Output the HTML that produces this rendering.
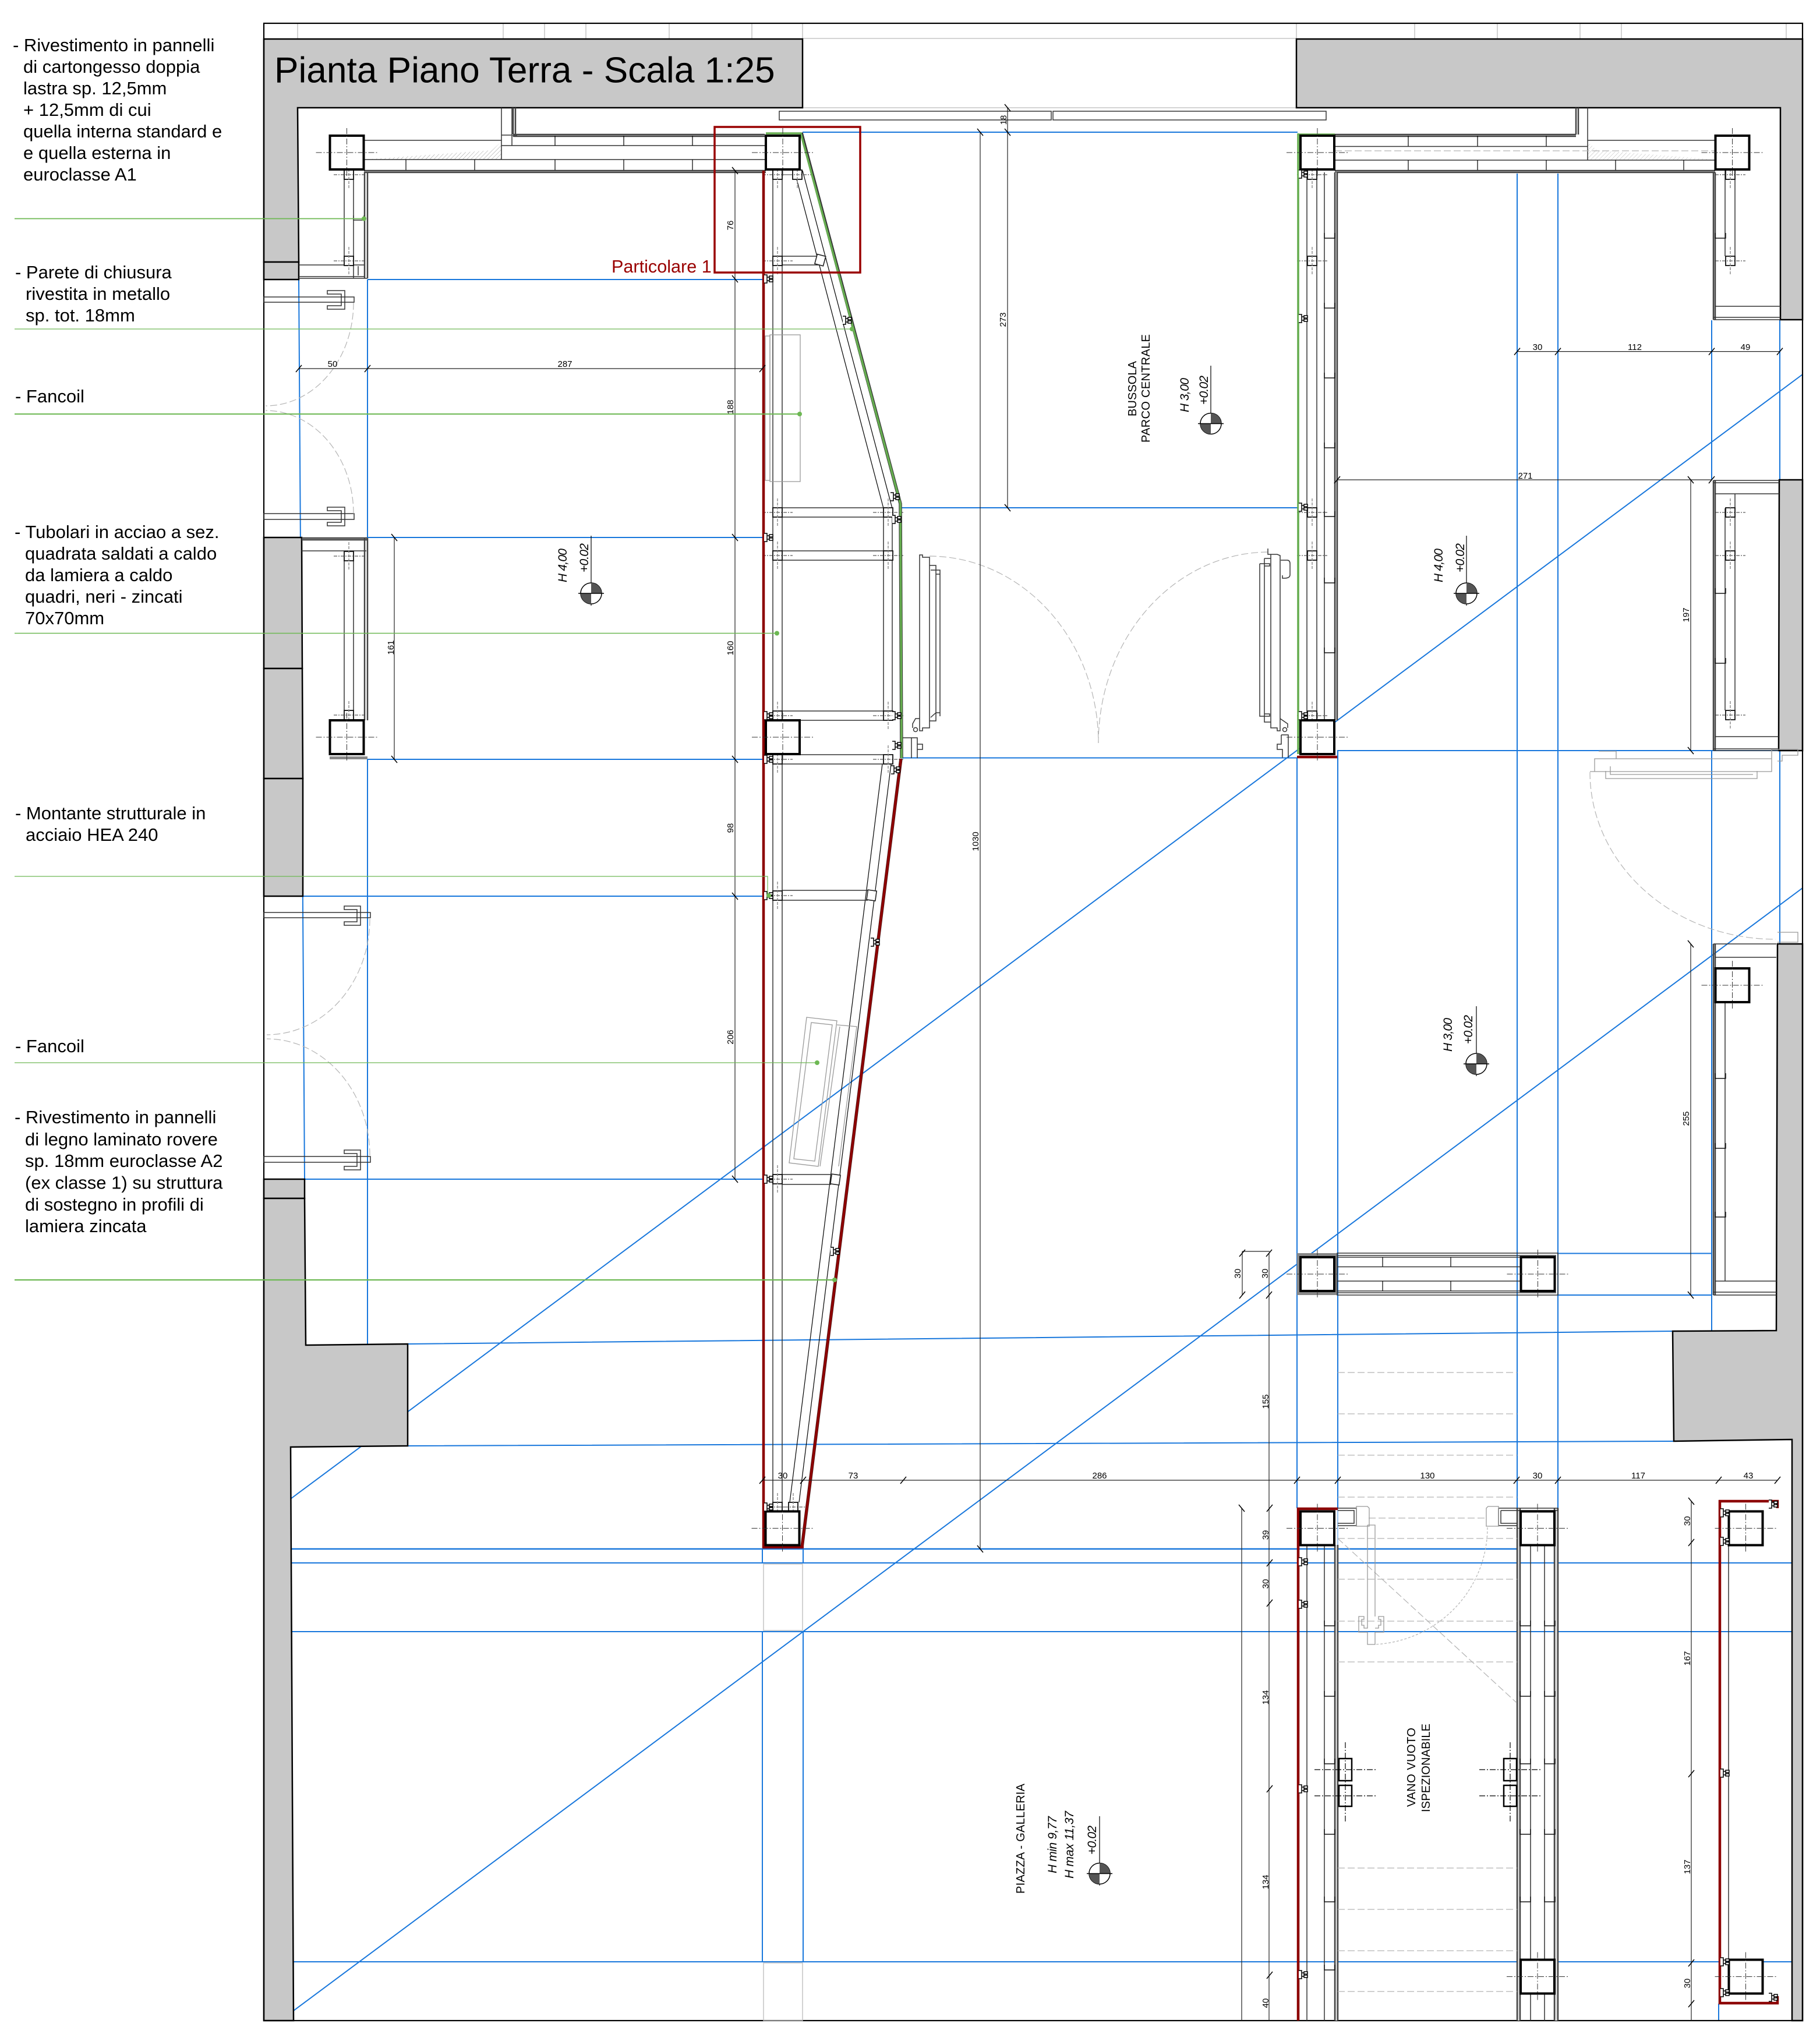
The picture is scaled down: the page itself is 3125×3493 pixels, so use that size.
<!DOCTYPE html>
<html><head><meta charset="utf-8"><title>Pianta Piano Terra</title>
<style>
html,body{margin:0;padding:0;background:#fff}
svg{display:block}
text{font-family:"Liberation Sans",sans-serif;fill:#000}
.l{font-size:31px}
.d{font-size:15px;text-anchor:middle}
.i{font-size:21px;font-style:italic}
.r{font-size:20px}
.b{stroke:#1877dc;stroke-width:2;fill:none}
.g{stroke:#6db853;fill:none}
.w{fill:#c8c8c8;stroke:#000;stroke-width:2.5}
.s{stroke:#333;stroke-width:1.5;fill:none}
.t{stroke:#444;stroke-width:2.5;fill:none}
.h{stroke:#999;stroke-width:1.3;fill:none}
.k{stroke:#000;stroke-width:1.2;fill:none}
.a{stroke:#b4b4b4;stroke-width:1.2;fill:none;stroke-dasharray:12 5}
.dm{stroke:#222;stroke-width:1.2;fill:none}
.red{stroke:#8c0000;stroke-width:4.5;fill:none}
.grn{stroke:#66ad50;stroke-width:3.6;fill:none}
.und{stroke:#333;stroke-width:5.5;fill:none}
</style></head><body>
<svg xmlns="http://www.w3.org/2000/svg" width="3125" height="3493" viewBox="0 0 3125 3493">
<defs>
<g id="col"><rect x="-29" y="-29" width="58" height="58" fill="#fff" stroke="#000" stroke-width="4"/><path d="M-53 0H53M0-42V42" stroke="#333" stroke-width="1" stroke-dasharray="10 3 2 3" fill="none"/></g>
<g id="sq"><rect x="-8" y="-8" width="16" height="16" fill="#fff" stroke="#111" stroke-width="1.8"/><path d="M-26 0H26" stroke="#333" stroke-width="1" stroke-dasharray="6 2 2 2" fill="none"/><path d="M0-24V24" stroke="#888" stroke-width="1.4" stroke-dasharray="5 2" fill="none"/></g>
<path id="fx" d="M-8-7h5v14h-5M-3-3h4v6h-4zM1-5h6v4h-6zM1 1h6v4h-6z" stroke="#000" stroke-width="1.5" fill="#fff"/>
<path id="tv" d="M-5-6L5 6" stroke="#000" stroke-width="1.5"/>
<path id="th" d="M-5 6L5-6" stroke="#000" stroke-width="1.5"/>
<path id="u" d="M0 0V9H18V0" stroke="#111" stroke-width="1.4" fill="none"/>
<circle id="dot" r="4" fill="#6db853"/>
<g id="lv"><circle r="18" fill="#fff" stroke="#000" stroke-width="1.5"/><path d="M0-18A18 18 0 0 1 18 0H0ZM0 18A18 18 0 0 1-18 0H0Z" fill="#555"/><path d="M-22 0H22" stroke="#000" stroke-width="1.5"/></g>
<pattern id="ht" width="5" height="5" patternUnits="userSpaceOnUse" patternTransform="rotate(45)"><path d="M0 0V5" stroke="#999" stroke-width="1"/></pattern>
</defs>
<rect width="3125" height="3493" fill="#fff"/>

<!-- top band -->
<path d="M1378 66H2226M1378 185H2226M511 40V67M864 40V67M935 40V67M1006 40V67M1149 40V67M1291 40V67M1378 40V67M2226 40V67M2429 40V67M2571 40V67M2713 40V67M2784 40V67M3067 40V67" stroke="#bbb" stroke-width="1.3" fill="none"/>

<!-- blue guide lines -->
<g class="b">
<path d="M513 480L523 2025M631 480V923M631 1304V2310"/>
<path d="M631 480H1309M631 923H1309M631 1304H1309M520 1539H1309M523 2025H1309"/>
<path d="M1378 227H2228M1547 872H2228M1547 1301.5H2228M2296 1289H3054"/>
<path d="M2675 2152.5H2939M2675 2224H2939"/>
<path d="M700 2308L2872 2286M700 2483L2874 2475"/>
<path d="M499 2660H2605" stroke-width="2.6"/>
<path d="M499 2684H3077M501 2802H3077M504 3369H3077"/>
<path d="M1309 2660V2684M1379 2660V2684M1309 2802V3369M1379 2802V3369"/>
<path d="M2227 1301V2590M2297 1289V2590M2605 298V2590M2675 298V2590"/>
<path d="M2297 2590V3369" stroke="#9cc4f0"/>
<path d="M2939 550V824M2939 1289V2286M3056 549V824M3056 1289V1621M2951 3441V3470"/>
<path d="M499 2574L3095 643"/>
<path d="M504 3453L3095 1525"/>
</g>

<!-- walls -->
<polygon class="w" points="453,67 1378,67 1378,185 511,185 513,450 453,450"/>
<polygon class="w" points="453,450 513,450 513,480 453,480"/>
<polygon class="w" points="453,923 518,923 519,1148 453,1148"/>
<polygon class="w" points="453,1148 519,1148 520,1337 453,1337"/>
<polygon class="w" points="453,1337 520,1337 520,1539 453,1539"/>
<polygon class="w" points="453,2025 523,2025 523,2058 453,2058"/>
<polygon class="w" points="453,2058 523,2058 525,2310 700,2308 700,2483 499,2485 504,3470 453,3470"/>
<polygon class="w" points="2226,67 3095,67 3095,549 3057,549 3057,185 2226,185"/>
<polygon class="w" points="3055,824 3095,824 3095,1289 3054,1289"/>
<polygon class="w" points="3052,1621 3095,1621 3095,3470 3077,3470 3077,2472 2874,2475 2872,2286 3050,2285"/>
<rect x="453" y="40" width="2642" height="3430" fill="none" stroke="#000" stroke-width="2.2"/>

<!-- sliding door on top -->
<rect x="1338" y="191" width="467" height="15" fill="#fff" class="s"/>
<rect x="1808" y="191" width="469" height="15" fill="#fff" class="s"/>

<!-- top left bay -->
<polygon points="625,274 845,258 861,243 861,274" fill="url(#ht)"/>
<path class="t" d="M881 231H1313M881 234H1313M625 293H1315M625 296H1315" stroke-width="2"/>
<path class="t" d="M881 185V231M885 185V231" stroke-width="1.8"/>
<path class="s" d="M625 241H861M861 250H1315M625 274H1315M861 185V274M879 185V232M861 232H879M879 233V250M879 233H888"/>
<path class="k" stroke-width="1.5" d="M953 233V250M1071 233V250M1189 233V250M697 274V292M815 274V292M953 274V292M1071 274V292M1189 274V292"/>
<path class="s" d="M591 293V440M607 293V478M513 455H625M513 475H625M513 478H631M615 457V473"/>
<path class="t" d="M626 296V478M631 296V478" stroke-width="1.8"/>
<path class="s" d="M607 370V378H625V370"/>
<use href="#sq" x="599" y="300"/><use href="#sq" x="599" y="448"/>

<!-- door jambs left -->
<g class="s" stroke-width="1.6">
<rect x="453" y="510" width="155" height="9"/><path d="M562 499H592V531H562V525H586V505H562Z"/>
<rect x="453" y="882" width="155" height="10"/><path d="M562 871H592V903H562V897H586V877H562Z"/>
<rect x="453" y="1567" width="183" height="9"/><path d="M591 1556H619V1589H591V1583H613V1562H591Z"/>
<rect x="453" y="1986" width="183" height="10"/><path d="M591 1975H619V2009H591V2003H613V1981H591Z"/>
</g>
<g class="a">
<path d="M607 520A151 177 0 0 1 456 697"/><path d="M607 882A151 177 0 0 0 456 705"/>
<path d="M635 1578A177 199 0 0 1 458 1777"/><path d="M635 1984A177 200 0 0 0 458 1784"/>
<path d="M1596 955A291 321 0 0 1 1886 1276"/><path d="M2177 948A293 328 0 0 0 1886 1276"/>
<path d="M2730 1326A319 287 0 0 0 3049 1613"/>
<path d="M2554 2623A204 201 0 0 1 2361 2824" stroke-dasharray="4 3"/>
</g>

<!-- lower left bay -->
<path class="t" d="M518 924H631M518 927H631" stroke-width="1.8"/>
<path class="s" d="M518 946H629M591 962V1220M607 962V1220"/>
<path class="t" d="M626 924V1237M631 924V1237" stroke-width="1.8"/>
<use href="#sq" x="599" y="955"/><use href="#sq" x="599" y="1228"/>
<rect x="566" y="1299" width="65" height="5" fill="#888"/>

<!-- central left curtain -->
<path class="s" d="M1327 293V2580M1343 293V2580"/>
<path class="k" d="M1368 308L1517 873M1378 293L1532 873M1517 889V1221M1532 889V1221"/>
<path class="k" d="M1515 1312L1356 2580M1530 1312L1372 2580"/>
<path class="s" d="M1343 440H1413M1343 455H1413M1343 872H1517M1343 888H1517M1343 946H1517M1343 962H1517M1343 1221H1517M1343 1237H1517M1343 1296H1517M1343 1312H1517M1343 1529H1490M1343 1546H1490M1343 2017H1427M1343 2034H1427"/>
<rect x="1322" y="575" width="52" height="252" fill="none" class="h"/>
<path class="h" d="M1314 577H1322V825H1314Z"/>
<polygon class="h" points="1385,1747 1437,1753 1405,2003 1355,1997"/>
<polygon class="h" points="1393,1756 1429,1760 1399,1994 1363,1990"/>
<path class="h" d="M1437 1760L1471 1763L1440 2003M1442 1763L1408 2003"/>
<use href="#sq" x="1335" y="300"/><use href="#sq" x="1369" y="300"/><use href="#sq" x="1335" y="448"/>
<rect x="1401" y="438" width="15" height="17" fill="#fff" stroke="#222" stroke-width="1.6" transform="rotate(15 1408 446)"/>
<use href="#sq" x="1335" y="880"/><use href="#sq" x="1335" y="954"/><use href="#sq" x="1335" y="1229"/><use href="#sq" x="1335" y="1304"/>
<use href="#sq" x="1525" y="880"/><use href="#sq" x="1525" y="954"/><use href="#sq" x="1525" y="1229"/><use href="#sq" x="1525" y="1304"/>
<use href="#sq" x="1335" y="1538"/><use href="#sq" x="1335" y="2025"/>
<rect x="1489" y="1529" width="15" height="17" fill="#fff" stroke="#222" stroke-width="1.6" transform="rotate(8 1496 1538)"/>
<rect x="1427" y="2017" width="15" height="17" fill="#fff" stroke="#222" stroke-width="1.6" transform="rotate(8 1434 2025)"/>
<use href="#sq" x="1335" y="2588"/><use href="#sq" x="1362" y="2588"/>
<rect x="1311" y="2686" width="67" height="114" fill="none" stroke="#bbb" stroke-width="1.3"/>
<rect x="1311" y="3371" width="67" height="99" fill="none" stroke="#bbb" stroke-width="1.3"/>

<!-- right top bay -->
<polygon points="2726,243 2742,258 2945,274 2726,274" fill="url(#ht)" opacity=".7"/>
<path class="t" d="M2292 231H2706M2292 234H2706M2292 293H2945M2292 296H2945" stroke-width="2"/>
<path class="t" d="M2706 185V231M2710 185V231" stroke-width="1.8"/>
<path class="s" d="M2726 241H2945M2292 251.5H2726M2292 275H2945M2726 185V275"/>
<path class="a" d="M2292 259H2945"/>
<path class="k" stroke-width="1.5" d="M2418 233V251M2537 233V251M2655 233V251M2418 275V292M2537 275V292M2655 275V292M2774 275V292M2891 275V292"/>
<!-- right column 2232-2296 -->
<path class="s" d="M2244 293V1237M2261 293V1237M2274 296V1237"/>
<rect x="2292" y="296" width="5" height="941" fill="#ddd"/>
<path class="t" d="M2292 296V1237M2296 296V1237" stroke-width="1.7"/>
<use href="#u" x="2274" y="400"/><use href="#u" x="2274" y="520"/><use href="#u" x="2274" y="640"/><use href="#u" x="2274" y="760"/><use href="#u" x="2274" y="878"/><use href="#u" x="2274" y="992"/><use href="#u" x="2274" y="1112"/>
<use href="#sq" x="2253" y="300"/><use href="#sq" x="2253" y="448"/><use href="#sq" x="2253" y="880"/><use href="#sq" x="2253" y="954"/><use href="#sq" x="2253" y="1229"/>
<!-- far right posts -->
<path class="t" d="M2942 296V549M2945 296V549M2942 825V1289M2945 825V1289M2942 1621V2224M2945 1621V2224" stroke-width="1.8"/>
<path class="s" d="M2962 293V440M2979 293V440M2945 526H3057M2942 545H3057M2942 549H3057"/>
<path class="s" d="M2942 825H3055M2942 829H3055M2945 848H3055M2962 873V1220M2979 848V1220M2945 1265H3054M2942 1286H3054M2942 1289H3054"/>
<path class="s" d="M2942 1621H3050M2945 1644H3050M2962 1721V2200M2945 2200H3050M2942 2219H3050M2942 2224H3050"/>
<use href="#u" x="2945" y="400"/><use href="#u" x="2945" y="1010"/><use href="#u" x="2945" y="1130"/><use href="#u" x="2945" y="1843"/><use href="#u" x="2945" y="1963"/><use href="#u" x="2945" y="2081"/>
<use href="#sq" x="2971" y="300"/><use href="#sq" x="2971" y="448"/><use href="#sq" x="2971" y="880"/><use href="#sq" x="2971" y="954"/><use href="#sq" x="2971" y="1228"/>
<!-- right door -->
<path class="h" stroke="#888" d="M2730 1325H2738V1303H3042V1287H3052M2757 1324V1337H3017V1324M2738 1303V1325H3042V1303M2765 1316V1330H3010M2745 1290H2775V1303M3052 1287H3087V1297H3060V1307H3052M3052 1601H3087V1618H3052"/>

<!-- centre pier -->
<rect x="2227" y="2152" width="69" height="72" fill="#888"/>
<rect x="2296" y="2152" width="379" height="72" fill="#fff" class="s"/>
<path class="s" d="M2296 2156H2672M2296 2220H2672M2296 2159H2611M2296 2175.5H2611M2296 2200H2611M2296 2217H2611"/>
<path class="k" d="M2374 2159V2175M2491 2159V2175M2374 2200V2217M2491 2200V2217"/>

<!-- centre door frames -->
<g class="s" stroke-width="1.4">
<path d="M1579 953H1584V957H1596V1250H1584V1255H1579Z" fill="#fff"/>
<path d="M1596 971H1607V1238H1596M1598 979H1614V986H1607M1607 986H1614V1224H1607M1598 1232L1607 1224H1614V1230"/>
<path d="M1579 1234H1572L1567 1243V1250M1550 1267H1575V1302M1565 1267V1302M1575 1267V1278H1584V1287H1575"/>
<circle cx="1572" cy="1253" r="3.5"/>
<path d="M2177 942V952H2193L2198 954V1255H2193V1250H2182V952" fill="#fff"/>
<path d="M2171 959H2182M2171 959V1240H2182M2163 968H2180V972H2171M2163 968V1230H2180V1226H2171"/>
<path d="M2199 962H2210Q2215 962 2215 968V987Q2215 993 2205 993H2202V988"/>
<path d="M2198 1234L2211 1243V1250M2200 1262H2212V1301M2200 1262V1278H2193V1287H2202V1301"/>
<circle cx="2206" cy="1253" r="3.5"/>
</g>

<!-- vano -->
<rect x="2292" y="2653" width="5" height="817" fill="#ddd"/>
<rect x="2605" y="2590" width="5" height="880" fill="#ddd"/>
<rect x="2669" y="2590" width="6" height="880" fill="#ddd"/>
<path class="s" d="M2244 2653V3470" stroke="#000"/>
<path class="s" stroke="#777" stroke-width="1.8" d="M2274 2653V3470M2652 2653V3470"/>
<path class="s" d="M2628 2653V3470M2669 2653V3470"/>
<path class="t" d="M2292 2653V3470M2297 2653V3470M2605 2590V3470M2610 2590V3470M2669 2590V3470M2675 2590V3470" stroke-width="1.6"/>
<path class="s" d="M2605 2590H2675V2594H2605"/>
<use href="#u" x="2274" y="2783"/><use href="#u" x="2274" y="2904"/><use href="#u" x="2274" y="3020"/><use href="#u" x="2274" y="3141"/><use href="#u" x="2274" y="3257"/><use href="#u" x="2274" y="3374"/>
<use href="#u" x="2610" y="2783"/><use href="#u" x="2610" y="2904"/><use href="#u" x="2610" y="3020"/><use href="#u" x="2610" y="3141"/><use href="#u" x="2610" y="3257"/>
<use href="#u" x="2652" y="2783"/><use href="#u" x="2652" y="2904"/><use href="#u" x="2652" y="3020"/><use href="#u" x="2652" y="3141"/><use href="#u" x="2652" y="3257"/><use href="#u" x="2652" y="3374"/>
<path class="s" d="M2297 2590H2329V2620H2297M2297 2594H2325V2616H2297M2573 2590H2605M2573 2590V2620H2605M2577 2594H2605M2577 2594V2616H2605"/>
<path class="a" d="M2297 2357H2605M2297 2428H2605M2297 2499H2605M2297 2571H2605M2297 2642H2605M2297 2712H2605M2297 2784H2605M2297 2854H2605M2297 3208H2605M2297 3279H2605M2297 3350H2605M2297 3420H2605M2297 2642L2604 2924"/>
<path class="a" stroke-dasharray="6 3" d="M2350 2607H2554"/>
<path class="h" d="M2329 2587H2348L2351 2590V2621H2329ZM2552 2607V2590L2555 2587H2573V2621H2552ZM2348 2619H2361V2776M2348 2619V2776M2348 2776V2796H2342V2791H2338V2781H2342V2776H2333V2803H2348V2824H2361V2803H2376V2776H2367V2781H2371V2791H2367V2796H2361"/>
<g fill="#fff" stroke="#000" stroke-width="2.5">
<rect x="2299" y="3020" width="22" height="38"/><rect x="2299" y="3066" width="22" height="36"/>
<rect x="2582" y="3020" width="22" height="38"/><rect x="2582" y="3066" width="22" height="36"/>
</g>
<path class="k" stroke-dasharray="10 3 2 3" d="M2257 3039H2364M2257 3084H2364M2540 3039H2647M2540 3084H2647M2310 2992V3130M2593 2992V3130"/>
<path class="s" d="M2968 2653V3365"/>

<!-- colour lines -->
<path class="und" stroke-width="5" d="M1547 1303L1377 2657M1376 228L1546 865L1548 1302"/>
<path class="red" d="M1311 293V2659M1309 2657H1380"/>
<path class="red" d="M1547 1303L1377 2657"/>
<path class="grn" d="M1315 229H1375L1546 865L1548 1302"/>
<path class="grn" stroke-width="4.5" d="M2229 229V1295M2228 231H2292"/>
<path class="red" d="M2227 1300H2296"/>
<path class="red" d="M2229 2589V3470M2227 2591H2297"/>
<path class="red" d="M2953 2576V3442M2951 2578H3052V2590M2951 3440H3052V3428"/>

<!-- columns -->
<use href="#col" x="595.5" y="262"/><use href="#col" x="1344" y="262"/><use href="#col" x="2262" y="262"/><use href="#col" x="2974.5" y="262"/>
<use href="#col" x="595.5" y="1266"/><use href="#col" x="1344" y="1266"/><use href="#col" x="2262" y="1266"/><use href="#col" x="2974.5" y="1692"/>
<use href="#col" x="2262" y="2188"/><use href="#col" x="2640.5" y="2188"/>
<use href="#col" x="1343.5" y="2624.5"/><use href="#col" x="2262" y="2624.5"/><use href="#col" x="2640" y="2624.5"/><use href="#col" x="2997.5" y="2624.5"/>
<use href="#col" x="2640" y="3394.5"/><use href="#col" x="2997.5" y="3394.5"/>

<!-- fixings -->
<use href="#fx" x="1320" y="479"/><use href="#fx" x="1455" y="550"/><use href="#fx" x="1320" y="923"/><use href="#fx" x="1537" y="853"/><use href="#fx" x="1540" y="892"/>
<use href="#fx" x="1320" y="1229"/><use href="#fx" x="1540" y="1229"/><use href="#fx" x="1540" y="1280"/><use href="#fx" x="1320" y="1304"/><use href="#fx" x="1538" y="1322"/>
<use href="#fx" x="1320" y="1538"/><use href="#fx" x="1503" y="1618"/><use href="#fx" x="1320" y="2025"/><use href="#fx" x="1434" y="2149"/><use href="#fx" x="1320" y="2588"/>
<use href="#fx" x="2238" y="299"/><use href="#fx" x="2238" y="547"/><use href="#fx" x="2238" y="871"/><use href="#fx" x="2238" y="1229"/>
<use href="#fx" x="2238" y="2682"/><use href="#fx" x="2238" y="2755"/><use href="#fx" x="2238" y="3072"/><use href="#fx" x="2238" y="3391"/>
<use href="#fx" x="2962" y="2598"/><use href="#fx" x="2962" y="2647"/><use href="#fx" x="2962" y="3045"/><use href="#fx" x="2962" y="3369"/><use href="#fx" x="2962" y="3422"/><use href="#fx" x="3045" y="2583"/><use href="#fx" x="3045" y="3430"/>

<!-- dimension lines -->
<g class="dm">
<path d="M1262 293V2025M513 633H1309M677 923V1304M1730 185V872M1683 227V2660M2605 603.6H3056M2296 824H2939M2903 824V1289M2903 1621V2224M2133 2149V2224M2133 2149H2180M2179 2152V3470M2132 2590V3470M1309 2542H3052M2904 2578V3470"/>
</g>
<use href="#tv" x="1262" y="293"/><use href="#tv" x="1262" y="479"/><use href="#tv" x="1262" y="923"/><use href="#tv" x="1262" y="1304"/><use href="#tv" x="1262" y="1539"/><use href="#tv" x="1262" y="2025"/>
<use href="#th" x="513" y="633"/><use href="#th" x="631" y="633"/><use href="#th" x="1309" y="633"/>
<use href="#tv" x="677" y="923"/><use href="#tv" x="677" y="1304"/>
<use href="#tv" x="1730" y="185"/><use href="#tv" x="1730" y="227"/><use href="#tv" x="1730" y="872"/><use href="#tv" x="1683" y="227"/><use href="#tv" x="1683" y="2660"/>
<use href="#th" x="2605" y="603.6"/><use href="#th" x="2675" y="603.6"/><use href="#th" x="2939" y="603.6"/><use href="#th" x="3056" y="603.6"/>
<use href="#th" x="2296" y="824"/><use href="#th" x="2939" y="824"/>
<use href="#tv" x="2903" y="824"/><use href="#tv" x="2903" y="1289"/><use href="#tv" x="2903" y="1621"/><use href="#tv" x="2903" y="2224"/>
<use href="#th" x="2133" y="2152"/><use href="#th" x="2179" y="2152"/><use href="#th" x="2133" y="2224"/><use href="#th" x="2179" y="2224"/>
<use href="#tv" x="2132" y="2590"/><use href="#th" x="2180" y="2590"/><use href="#th" x="2180" y="2684"/><use href="#th" x="2180" y="2753"/><use href="#th" x="2180" y="3072"/><use href="#th" x="2180" y="3392"/>
<use href="#th" x="1309" y="2542"/><use href="#th" x="1379" y="2542"/><use href="#th" x="1551" y="2542"/><use href="#th" x="2227" y="2542"/><use href="#th" x="2297" y="2542"/><use href="#th" x="2604" y="2542"/><use href="#th" x="2675" y="2542"/><use href="#th" x="2951" y="2542"/><use href="#th" x="3052" y="2542"/>
<use href="#tv" x="2904" y="2578"/><use href="#th" x="2904" y="2649"/><use href="#th" x="2904" y="3046"/><use href="#th" x="2904" y="3371"/><use href="#th" x="2904" y="3441"/>

<!-- red box -->
<rect x="1227" y="218" width="250" height="250" fill="none" stroke="#990000" stroke-width="3.5"/>

<!-- level symbols -->
<g class="k"><path d="M1015 920V1040M2079 628V745M2518 920V1040M2535 1728V1848M1888 3119V3238"/></g>
<use href="#lv" x="1015" y="1019"/><use href="#lv" x="2079" y="727.5"/><use href="#lv" x="2518" y="1019"/><use href="#lv" x="2535" y="1827"/><use href="#lv" x="1888" y="3217.5"/>

<!-- green leaders -->
<g class="g">
<path d="M25 375.5H625" stroke-width="1.8"/>
<path d="M25 565H1463" stroke-width="1.2"/>
<path d="M25 711H1373" stroke-width="2"/>
<path d="M25 1087.5H1334" stroke-width="1.5"/>
<path d="M25 1505H1318V1538" stroke-width="1.2"/>
<path d="M25 1825H1403" stroke-width="1.2"/>
<path d="M25 2198H1433" stroke-width="2.2"/>
</g>
<use href="#dot" x="625" y="375.5"/><use href="#dot" x="1463" y="565"/><use href="#dot" x="1373" y="711"/><use href="#dot" x="1334" y="1087.5"/><use href="#dot" x="1320" y="1538"/><use href="#dot" x="1403" y="1825"/><use href="#dot" x="1433" y="2198"/>

<!-- title -->
<text x="471" y="141.5" font-size="62.2">Pianta Piano Terra - Scala 1:25</text>
<text x="1050" y="468" font-size="30.6" style="fill:#990000">Particolare 1</text>

<!-- left notes -->
<g class="l">
<text x="22" y="88">- Rivestimento in pannelli</text>
<text x="40" y="125">di cartongesso doppia</text>
<text x="40" y="162">lastra sp. 12,5mm</text>
<text x="40" y="199">+ 12,5mm di cui</text>
<text x="40" y="236">quella interna standard e</text>
<text x="40" y="273">e quella esterna in</text>
<text x="40" y="310">euroclasse A1</text>
<text x="26" y="478">- Parete di chiusura</text>
<text x="44" y="515">rivestita in metallo</text>
<text x="44" y="552">sp. tot. 18mm</text>
<text x="26" y="691">- Fancoil</text>
<text x="25" y="924">- Tubolari in acciao a sez.</text>
<text x="43" y="961">quadrata saldati a caldo</text>
<text x="43" y="998">da lamiera a caldo</text>
<text x="43" y="1035">quadri, neri - zincati</text>
<text x="43" y="1072">70x70mm</text>
<text x="26" y="1407">- Montante strutturale in</text>
<text x="44" y="1444">acciaio HEA 240</text>
<text x="26" y="1807">- Fancoil</text>
<text x="25" y="1929">- Rivestimento in pannelli</text>
<text x="43" y="1967">di legno laminato rovere</text>
<text x="43" y="2004">sp. 18mm euroclasse A2</text>
<text x="43" y="2041.5">(ex classe 1) su struttura</text>
<text x="43" y="2079">di sostegno in profili di</text>
<text x="43" y="2116">lamiera zincata</text>
</g>

<!-- dimension labels horizontal -->
<g class="d">
<text x="571" y="630">50</text><text x="970" y="630">287</text>
<text x="2640" y="601">30</text><text x="2807" y="601">112</text><text x="2997" y="601">49</text>
<text x="2619" y="822">271</text>
<text x="1344" y="2539">30</text><text x="1465" y="2539">73</text><text x="1888" y="2539">286</text><text x="2451" y="2539">130</text><text x="2640" y="2539">30</text><text x="2813" y="2539">117</text><text x="3002" y="2539">43</text>
</g>
<!-- dimension labels vertical -->
<g class="d">
<text transform="translate(1259,387) rotate(-90)">76</text>
<text transform="translate(1259,699) rotate(-90)">188</text>
<text transform="translate(1259,1113) rotate(-90)">160</text>
<text transform="translate(1259,1422) rotate(-90)">98</text>
<text transform="translate(1259,1781) rotate(-90)">206</text>
<text transform="translate(676,1112) rotate(-90)">161</text>
<text transform="translate(1727,549) rotate(-90)">273</text>
<text transform="translate(1728,206) rotate(-90)">18</text>
<text transform="translate(1680,1445) rotate(-90)">1030</text>
<text transform="translate(2900,1056) rotate(-90)">197</text>
<text transform="translate(2900,1921) rotate(-90)">255</text>
<text transform="translate(2130,2187) rotate(-90)">30</text>
<text transform="translate(2177,2187) rotate(-90)">30</text>
<text transform="translate(2178,2407) rotate(-90)">155</text>
<text transform="translate(2178,2636) rotate(-90)">39</text>
<text transform="translate(2178,2720) rotate(-90)">30</text>
<text transform="translate(2178,2915) rotate(-90)">134</text>
<text transform="translate(2178,3232) rotate(-90)">134</text>
<text transform="translate(2178,3440) rotate(-90)">40</text>
<text transform="translate(2902,2612) rotate(-90)">30</text>
<text transform="translate(2902,2848) rotate(-90)">167</text>
<text transform="translate(2902,3206) rotate(-90)">137</text>
<text transform="translate(2902,3406) rotate(-90)">30</text>
</g>

<!-- room labels -->
<text class="r" transform="translate(1951,715) rotate(-90)" textLength="95">BUSSOLA</text>
<text class="r" transform="translate(1974,760) rotate(-90)" textLength="186">PARCO CENTRALE</text>
<text class="i" transform="translate(2041,708) rotate(-90)" textLength="59">H 3,00</text>
<text class="i" transform="translate(2074,695) rotate(-90)" textLength="50">+0.02</text>
<text class="i" transform="translate(973,1000) rotate(-90)" textLength="58">H 4,00</text>
<text class="i" transform="translate(1010,983) rotate(-90)" textLength="50">+0.02</text>
<text class="i" transform="translate(2477,1000) rotate(-90)" textLength="58">H 4,00</text>
<text class="i" transform="translate(2514,983) rotate(-90)" textLength="50">+0.02</text>
<text class="i" transform="translate(2493,1806) rotate(-90)" textLength="58">H 3,00</text>
<text class="i" transform="translate(2528,1793) rotate(-90)" textLength="50">+0.02</text>
<text class="r" transform="translate(1759,3252) rotate(-90)" textLength="189">PIAZZA - GALLERIA</text>
<text class="i" transform="translate(1814,3217) rotate(-90)" textLength="98">H min 9,77</text>
<text class="i" transform="translate(1843,3226) rotate(-90)" textLength="116">H max 11,37</text>
<text class="i" transform="translate(1882,3185) rotate(-90)" textLength="50">+0.02</text>
<text class="r" transform="translate(2430,3103) rotate(-90)" textLength="136">VANO VUOTO</text>
<text class="r" transform="translate(2455,3112) rotate(-90)" textLength="152">ISPEZIONABILE</text>
</svg>
</body></html>
